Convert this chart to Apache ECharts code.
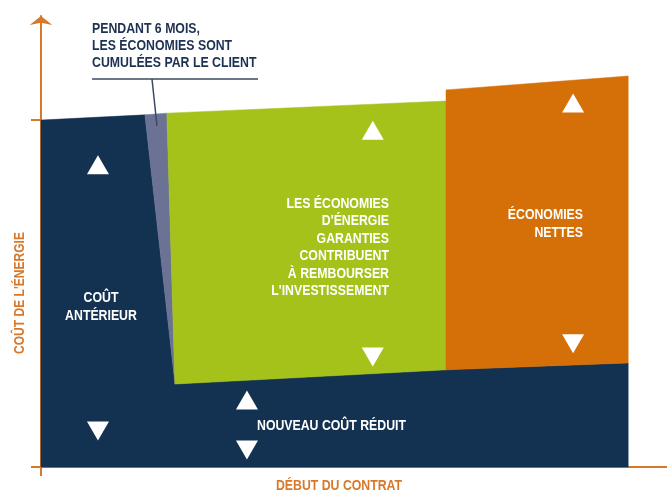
<!DOCTYPE html>
<html>
<head>
<meta charset="utf-8">
<script src="https://cdn.jsdelivr.net/npm/echarts@6/dist/echarts.min.js"></script>
<style>
  html, body { margin: 0; padding: 0; background: #ffffff; }
  #chart { width: 667px; height: 493px; }
</style>
</head>
<body>
<div id="chart"></div>
<script>
// Contract timeline (x: 0..100) against energy cost (y: 0..130, previous cost = 100)

// Region outlines, as [time, cost] vertices
const costArea     = [[0, 0], [0, 100], [16.6, 101.5], [21.4, 23.9], [64.7, 28], [93.8, 30], [93.8, 0]];
const clientArea   = [[16.6, 101.5], [20.1, 102], [21.4, 23.9]];
const repayArea    = [[20.1, 102], [64.7, 105.5], [64.7, 28], [21.4, 23.9]];
const netArea      = [[64.7, 108.7], [93.8, 112.7], [93.8, 30], [64.7, 28]];

const regions      = [costArea, clientArea, repayArea, netArea];
const regionColors = ['#133151', '#6b7294', '#a4c21a', '#d56f07'];

// Arrow markers [time, cost]
const upArrows   = [[9.1, 87.1], [32.9, 19.3], [53.0, 97.1], [85.0, 104.9]];
const downArrows = [[9.1, 10.4], [32.9, 4.9], [53.0, 31.7], [85.0, 35.5]];

const axisColor = '#d8782a';
const textFont = '"Liberation Sans", Arial, sans-serif';
const squeeze = 0.82; // condensed lettering

function caption(x, y, text, opts) {
  return Object.assign({
    type: 'text', x: x, y: y, scaleX: squeeze, z: 10,
    style: Object.assign({
      text: text, font: 'bold 15px ' + textFont, fill: '#ffffff',
      align: 'left', verticalAlign: 'top'
    }, opts.style || {})
  }, opts.el || {});
}

const chart = echarts.init(document.getElementById('chart'), null, { renderer: 'canvas' });

const option = {
  backgroundColor: '#ffffff',
  animation: false,
  grid: { left: 41, right: 0, top: 16, bottom: 26 },
  xAxis: {
    type: 'value', min: 0, max: 100,
    axisLine: { show: true, lineStyle: { color: axisColor, width: 2 } },
    axisTick: { show: true, customValues: [0], length: 9, lineStyle: { color: axisColor, width: 2 } },
    axisLabel: { show: false },
    splitLine: { show: false }
  },
  yAxis: {
    type: 'value', min: 0, max: 130,
    axisLine: {
      show: true, symbol: ['none', 'arrow'], symbolSize: [17, 9],
      lineStyle: { color: axisColor, width: 2 }
    },
    axisTick: { show: true, customValues: [0, 100], length: 10, lineStyle: { color: axisColor, width: 2 } },
    axisLabel: { show: false },
    splitLine: { show: false }
  },
  series: [
    {
      type: 'custom',
      coordinateSystem: 'cartesian2d',
      data: regions.map((r, i) => [r[0][0], r[0][1], i]),
      renderItem: function (params, api) {
        const idx = params.dataIndex;
        const pts = regions[idx].map(p => api.coord(p));
        return {
          type: 'polygon',
          shape: { points: pts },
          style: { fill: regionColors[idx], stroke: regionColors[idx], lineWidth: 0.5 }
        };
      },
      silent: true,
      z: 1
    },
    {
      type: 'scatter',
      data: upArrows,
      symbol: 'triangle',
      symbolSize: [22, 19],
      itemStyle: { color: '#ffffff', opacity: 1 },
      silent: true,
      z: 5
    },
    {
      type: 'scatter',
      data: downArrows,
      symbol: 'triangle',
      symbolRotate: 180,
      symbolSize: [22, 19],
      itemStyle: { color: '#ffffff', opacity: 1 },
      silent: true,
      z: 5
    }
  ],
  graphic: [
    // annotation above the chart
    caption(92, 20, 'PENDANT 6 MOIS,\nLES ÉCONOMIES SONT\nCUMULÉES PAR LE CLIENT',
      { style: { lineHeight: 17, fill: '#1d3152' } }),
    {
      type: 'line', shape: { x1: 92, y1: 79, x2: 258, y2: 79 },
      style: { stroke: '#3b4a63', lineWidth: 1.5 }
    },
    {
      type: 'line', shape: { x1: 152, y1: 79, x2: 157, y2: 126 },
      style: { stroke: '#3b4a63', lineWidth: 1.5 }, z: 10
    },
    // region captions
    caption(389, 195, "LES ÉCONOMIES\nD'ÉNERGIE\nGARANTIES\nCONTRIBUENT\nÀ REMBOURSER\nL'INVESTISSEMENT",
      { style: { lineHeight: 17.5, align: 'right' } }),
    caption(583, 206, 'ÉCONOMIES\nNETTES',
      { style: { lineHeight: 18, align: 'right' } }),
    caption(101, 289, 'COÛT\nANTÉRIEUR',
      { style: { lineHeight: 18, align: 'center' } }),
    caption(257, 426, 'NOUVEAU COÛT RÉDUIT',
      { style: { verticalAlign: 'middle' } }),
    // axis titles
    caption(20, 293, "COÛT DE L'ÉNERGIE",
      { el: { rotation: Math.PI / 2, scaleX: 0.86 },
        style: { font: 'bold 14px ' + textFont, fill: axisColor, align: 'center', verticalAlign: 'middle' } }),
    caption(339, 486, 'DÉBUT DU CONTRAT',
      { style: { fill: axisColor, align: 'center', verticalAlign: 'middle' } })
  ]
};

chart.setOption(option);
</script>
</body>
</html>
